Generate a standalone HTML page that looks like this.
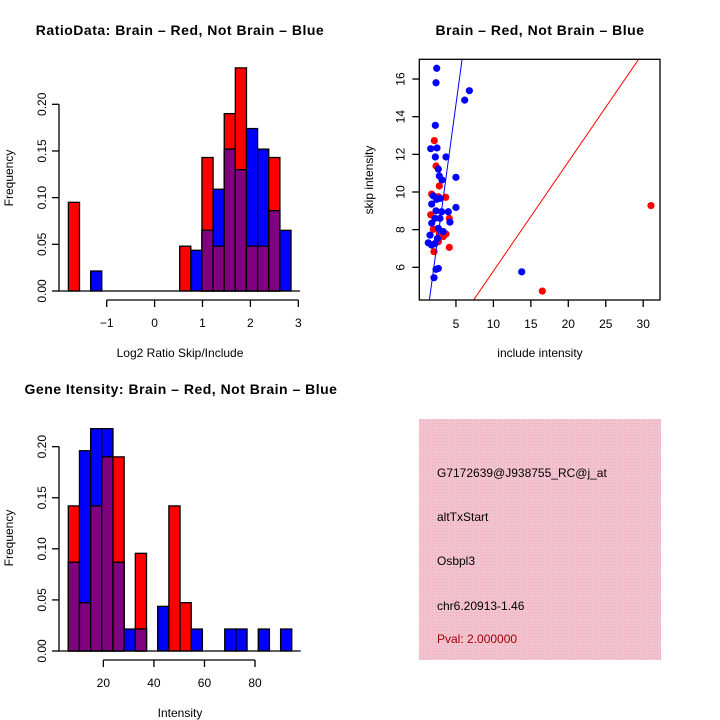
<!DOCTYPE html>
<html><head><meta charset="utf-8">
<style>
html,body{margin:0;padding:0;background:#fff;}
svg{display:block;font-family:"Liberation Sans",sans-serif;}
</style></head>
<body>
<svg id="chart" width="720" height="720" viewBox="0 0 720 720" xmlns="http://www.w3.org/2000/svg">
<rect width="720" height="720" fill="#fff"/>
<defs>
<pattern id="pinkhatch" width="3" height="3" patternUnits="userSpaceOnUse">
<rect width="3" height="3" fill="#f1c3cf"/>
<rect width="1" height="1" fill="#f7a8bd"/>
</pattern>
</defs>
<text x="180" y="35" font-size="14" font-weight="bold" text-anchor="middle" letter-spacing="0.5">RatioData: Brain – Red, Not Brain – Blue</text>
<text x="180" y="357" font-size="12" text-anchor="middle">Log2 Ratio Skip/Include</text>
<text transform="translate(13,178) rotate(-90)" font-size="12" text-anchor="middle">Frequency</text>
<text x="540" y="35" font-size="14" font-weight="bold" text-anchor="middle" letter-spacing="0.5">Brain – Red, Not Brain – Blue</text>
<text x="540" y="357" font-size="12" text-anchor="middle">include intensity</text>
<text transform="translate(373,180) rotate(-90)" font-size="12" text-anchor="middle">skip intensity</text>
<text x="181" y="394" font-size="14" font-weight="bold" text-anchor="middle" letter-spacing="0.5">Gene Itensity: Brain – Red, Not Brain – Blue</text>
<text x="180" y="717" font-size="12" text-anchor="middle">Intensity</text>
<text transform="translate(13,538) rotate(-90)" font-size="12" text-anchor="middle">Frequency</text>
<g>
<rect x="419" y="419" width="242" height="241" fill="url(#pinkhatch)"/>
<text x="437" y="477" font-size="12">G7172639@J938755_RC@j_at</text>
<text x="437" y="521" font-size="12">altTxStart</text>
<text x="437" y="565" font-size="12">Osbpl3</text>
<text x="437" y="610" font-size="12">chr6.20913-1.46</text>
<text x="437" y="643" font-size="12" fill="#a00000">Pval: 2.000000</text>
</g>
</svg>
<script>
// ---- Ratio histogram data (bins of equal width) ----
const ratioBinStart = -1.80;
const ratioBinWidth = 0.2324;
const ratioRed  = [0.095,0,0,0,0,0,0,0,0,0,0.048,0,0.143,0.048,0.190,0.239,0.048,0.048,0.143,0];
const ratioBlue = [0,0,0.0214,0,0,0,0,0,0,0,0,0.0436,0.065,0.109,0.152,0.130,0.174,0.152,0.086,0.065];
const ratioXTicks = [-1,0,1,2,3];
const ratioYTicks = [0,0.05,0.10,0.15,0.20];
const ratioYLabels = ["0.00","0.05","0.10","0.15","0.20"];

// ---- Intensity histogram data ----
const intBinStart = 6.13;
const intBinWidth = 4.42;
const intRed  = [0.142,0.0473,0.142,0.190,0.190,0,0.0956,0,0,0.142,0.0473,0,0,0,0,0,0,0,0,0];
const intBlue = [0.0868,0.196,0.2176,0.2176,0.0868,0.0215,0.0215,0,0.0437,0,0,0.0215,0,0,0.0215,0.0215,0,0.0215,0,0.0215];
const intXTicks = [20,40,60,80];
const intYTicks = [0,0.05,0.10,0.15,0.20];
const intYLabels = ["0.00","0.05","0.10","0.15","0.20"];

// ---- Scatter data ----
const blueX = [2.43,2.34,6.79,6.17,2.25,1.63,2.47,2.25,3.67,2.65,2.78,3.14,5.0,1.98,1.76,2.43,2.87,5.0,2.34,3.09,3.98,2.2,2.87,4.2,1.76,2.65,3.3,1.54,2.52,1.31,1.76,2.2,2.34,2.65,2.07,13.78];
const blueY = [16.57,15.8,15.38,14.88,13.54,12.30,12.34,11.86,11.86,11.22,10.85,10.64,10.78,9.79,9.36,9.61,9.66,9.18,9.0,8.95,8.95,8.6,8.6,8.4,8.34,8.07,7.9,7.71,7.53,7.3,7.18,7.26,5.89,5.94,5.45,5.76];
const redX = [2.11,2.34,2.78,1.76,3.63,2.65,1.63,4.11,1.98,2.78,3.67,3.3,2.65,2.07,4.11,16.53,31.04];
const redY = [12.73,11.38,10.32,9.89,9.72,9.75,8.79,8.6,8.02,7.80,7.77,7.63,7.36,6.83,7.06,4.74,9.28];
const blueSlope = [2.93];
const redSlope = [0.58];
const scatXTicks = [5,10,15,20,25,30];
const scatYTicks = [6,8,10,12,14,16];

const NS = "http://www.w3.org/2000/svg";
const svg = document.getElementById('chart');
function mk(tag, attrs, parent){
  const e = document.createElementNS(NS, tag);
  for (const k in attrs) e.setAttribute(k, attrs[k]);
  (parent||svg).appendChild(e);
  return e;
}

function histogram(prefix, binStart, binWidth, red, blue, xTicks, yTicks, yLabels, xs, ys, y0, axisY, axisX) {
  const g = mk('g', {});
  
  
  for (let i = 0; i < red.length; i++) {
    const x0 = xs(binStart + i*binWidth), x1 = xs(binStart + (i+1)*binWidth);
    const r = red[i], b = blue[i], m = Math.min(r, b);
    const order = r >= b ? [['red', r, '#ff0000'], ['blue', b, '#0000ff']] : [['blue', b, '#0000ff'], ['red', r, '#ff0000']];
    for (const [nm, v, col] of order) {
      if (v <= 0) continue;
      const rc = mk('rect', {x: x0, y: ys(v), width: x1-x0, height: ys(0)-ys(v), fill: col, stroke: '#000', 'stroke-width': 1.3}, g);
      
      
    }
    if (m > 0) {
      const pr = mk('rect', {x: x0, y: ys(m), width: x1-x0, height: ys(0)-ys(m), fill: '#800080', stroke: '#000', 'stroke-width': 1.3}, g);
      
      
    }
  }
  const bl = mk('line', {x1: xs(binStart)-10, x2: xs(binStart+red.length*binWidth)+9, y1: ys(0), y2: ys(0), stroke: '#000', 'stroke-width': 1.3}, g);
  
  
  const ya = mk('g', {}, g);
  
  
  mk('line', {x1: axisX, x2: axisX, y1: ys(yTicks[0]), y2: ys(yTicks[yTicks.length-1]), stroke: '#000', 'stroke-width': 1.3}, ya);
  yTicks.forEach((t, i) => {
    mk('line', {x1: axisX-7, x2: axisX, y1: ys(t), y2: ys(t), stroke: '#000', 'stroke-width': 1.3}, ya);
    const tx = mk('text', {transform: `translate(${axisX-13},${ys(t)}) rotate(-90)`, 'font-size': 12, 'text-anchor': 'middle'}, ya);
    tx.textContent = yLabels[i];
    
    
  });
  const xa = mk('g', {}, g);
  
  
  mk('line', {x1: xs(xTicks[0]), x2: xs(xTicks[xTicks.length-1]), y1: axisY, y2: axisY, stroke: '#000', 'stroke-width': 1.3}, xa);
  xTicks.forEach(t => {
    mk('line', {x1: xs(t), x2: xs(t), y1: axisY, y2: axisY+7, stroke: '#000', 'stroke-width': 1.3}, xa);
    const tx = mk('text', {x: xs(t), y: axisY+27, 'font-size': 12, 'text-anchor': 'middle'}, xa);
    tx.textContent = String(t).replace('-', '−');
    
    
  });
}

histogram('ratio', ratioBinStart, ratioBinWidth, ratioRed, ratioBlue, ratioXTicks, ratioYTicks, ratioYLabels,
  v => 154.6 + v*47.9, v => 291 - v*933.5, 291, 300, 59);

histogram('intensity', intBinStart, intBinWidth, intRed, intBlue, intXTicks, intYTicks, intYLabels,
  v => 52.8 + v*2.528, v => 651 - v*1021.7, 651, 660, 59);

(function(){
  const xs = v => 418.5 + v*7.49;
  const ys = v => 380.3 - v*18.83;
  const L = 419.3, R = 660, T = 59.3, B = 300;
  const g = mk('g', {});
  
  
  const clip = mk('clipPath', {id: 'scclip'}, g);
  mk('rect', {x: L, y: T, width: R-L, height: B-T}, clip);
  const pts = mk('g', {'clip-path': 'url(#scclip)'}, g);
  redX.forEach((x, i) => {
    const c = mk('circle', {cx: xs(x), cy: ys(redY[i]), r: 3.6, fill: '#ff0000'}, pts);
    
    
  });
  blueX.forEach((x, i) => {
    const c = mk('circle', {cx: xs(x), cy: ys(blueY[i]), r: 3.6, fill: '#0000ff'}, pts);
    
    
  });
  const bl = mk('line', {x1: xs(0), y1: ys(0), x2: xs(40), y2: ys(40*blueSlope[0]), stroke: '#0000ff', 'stroke-width': 1}, pts);
  
  
  const rl = mk('line', {x1: xs(0), y1: ys(0), x2: xs(40), y2: ys(40*redSlope[0]), stroke: '#ff0000', 'stroke-width': 1}, pts);
  
  
  const box = mk('rect', {x: L, y: T, width: R-L, height: B-T, fill: 'none', stroke: '#000', 'stroke-width': 1.3}, g);
  
  
  scatXTicks.forEach(t => {
    mk('line', {x1: xs(t), x2: xs(t), y1: B, y2: B+7, stroke: '#000', 'stroke-width': 1.3}, g);
    const tx = mk('text', {x: xs(t), y: B+28, 'font-size': 12, 'text-anchor': 'middle'}, g);
    tx.textContent = t;
    
    
  });
  scatYTicks.forEach(t => {
    mk('line', {x1: L-7, x2: L, y1: ys(t), y2: ys(t), stroke: '#000', 'stroke-width': 1.3}, g);
    const tx = mk('text', {transform: `translate(${L-15},${ys(t)}) rotate(-90)`, 'font-size': 12, 'text-anchor': 'middle'}, g);
    tx.textContent = t;
    
    
  });
})();
</script>
</body></html>
